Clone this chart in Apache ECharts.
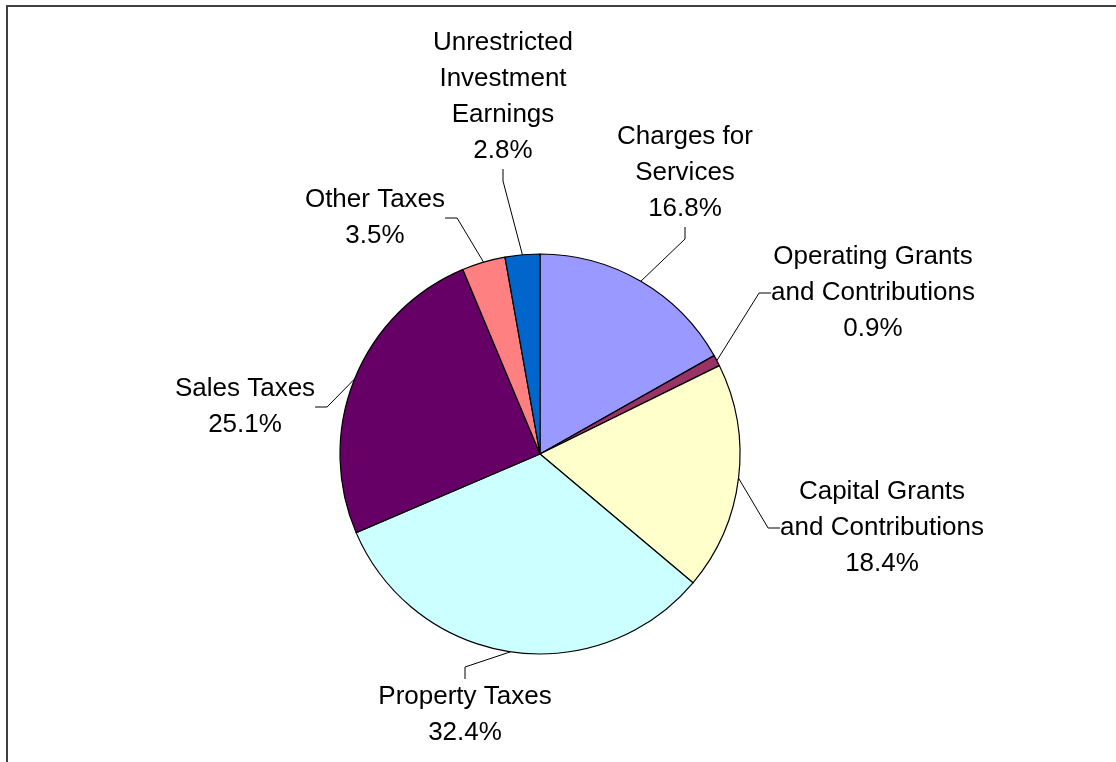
<!DOCTYPE html>
<html>
<head>
<meta charset="utf-8">
<script src="https://cdn.jsdelivr.net/npm/echarts@6/dist/echarts.min.js"></script>
<style>
html,body{margin:0;padding:0;background:#fff;}
#chart{width:1116px;height:762px;}
</style>
</head>
<body>
<div id="chart"></div>
<script>
const categories = [
  'Charges for\nServices',
  'Operating Grants\nand Contributions',
  'Capital Grants\nand Contributions',
  'Property Taxes',
  'Sales Taxes',
  'Other Taxes',
  'Unrestricted\nInvestment\nEarnings'
];
const shares = [16.8, 0.9, 18.4, 32.4, 25.1, 3.5, 2.8];
const colors = ['#9999FF', '#993366', '#FFFFCC', '#CCFFFF', '#660066', '#FF8080', '#0066CC'];
// label block centres (text placement only)
const labelSpots = [
  [685, 173], [873, 293], [882, 528], [465, 715], [245, 407], [375, 218], [503, 97]
];

const chart = echarts.init(document.getElementById('chart'), null, {renderer: 'canvas'});
chart.setOption({
  backgroundColor: '#fff',
  animation: false,
  graphic: [{
    type: 'rect',
    shape: {x: 7, y: 6, width: 1300, height: 1000},
    style: {fill: 'none', stroke: '#404040', lineWidth: 2},
    silent: true
  }],
  series: [{
    type: 'pie',
    center: [540, 454],
    radius: 200,
    startAngle: 90,
    clockwise: true,
    avoidLabelOverlap: false,
    data: categories.map((c, i) => ({name: c, value: shares[i], itemStyle: {color: colors[i]}})),
    itemStyle: {borderColor: '#000', borderWidth: 1.2},
    label: {
      show: true,
      position: 'outside',
      formatter: '{b}\n{c}%',
      fontFamily: 'Arial, "Liberation Sans", sans-serif',
      fontSize: 26,
      lineHeight: 36,
      color: '#000',
      align: 'center'
    },
    labelLine: {
      show: true,
      length: 12,
      length2: 12,
      lineStyle: {color: '#000', width: 1}
    },
    labelLayout: function (p) {
      const s = labelSpots[p.dataIndex];
      return {x: s[0], y: s[1], align: 'center', verticalAlign: 'middle'};
    },
    emphasis: {disabled: true}
  }]
});
</script>
</body>
</html>
